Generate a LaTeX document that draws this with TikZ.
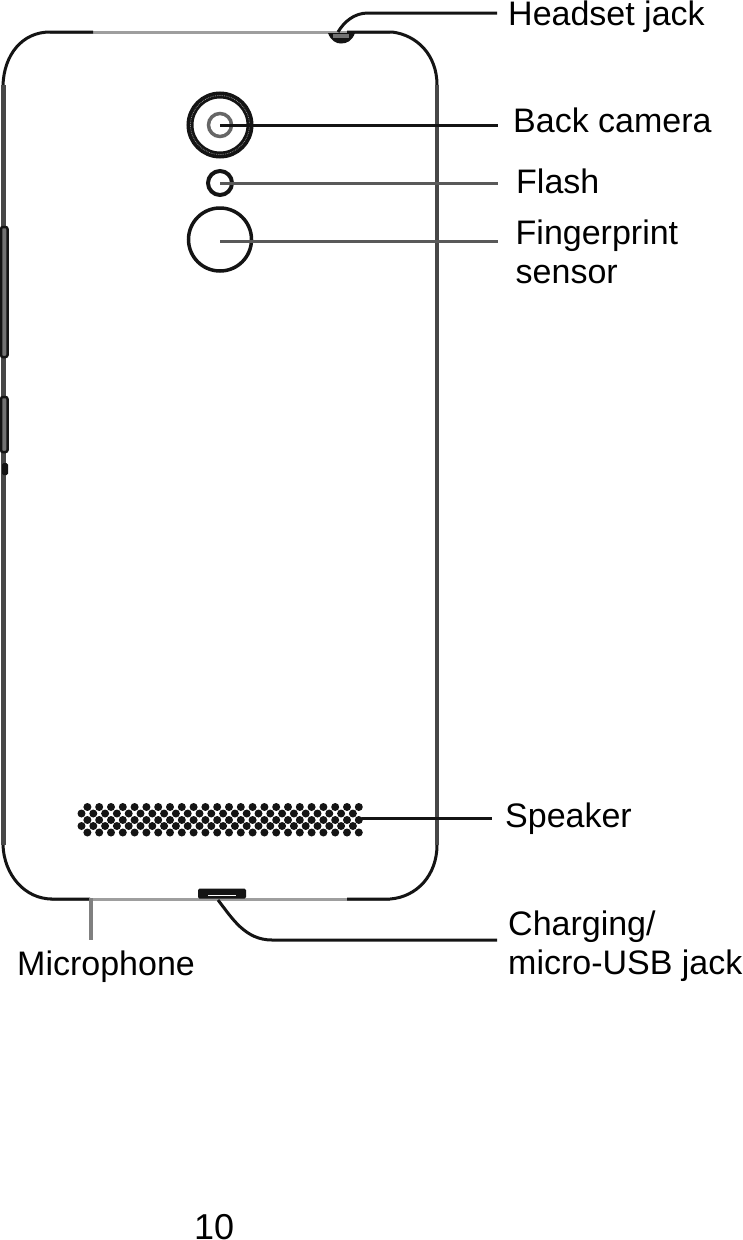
\documentclass[tikz,border=0pt]{standalone}
\usepackage{fontspec}
\setmainfont{Liberation Sans}
\usetikzlibrary{arrows.meta}
\definecolor{edgegrey}{gray}{0.62}
\definecolor{sidegrey}{gray}{0.28}
\definecolor{inkblack}{gray}{0.08}
\tikzset{
	callout/.style={anchor=base west, inner sep=0pt, font=\fontsize{34}{39}\selectfont, text=black, align=left},
	leader/.style={inkblack, line width=3pt},
	softleader/.style={black!65, line width=3pt},
	hole/.style={circle, draw=inkblack, inner sep=0pt, fill=white},
}
\begin{document}
\begin{tikzpicture}[x=1pt, y=-1pt]
	\useasboundingbox (0,0) rectangle (742,1240);
	\fill[white] (0,0) rectangle (742,1240);
	% outline of the back cover
	\draw[edgegrey, line width=3pt] (50,32) -- (390,32);
	\draw[edgegrey, line width=3pt] (50,899) -- (390,899);
	\draw[inkblack, line width=3pt] (93,32) -- (50,32) .. controls (22,32) and (4,55) .. (3,85);
	\draw[inkblack, line width=3pt] (347,32) -- (392,32) .. controls (417,35) and (437,55) .. (437,85);
	\draw[inkblack, line width=3pt] (3,845) .. controls (4,875) and (25,899) .. (52,899) -- (90,899);
	\draw[inkblack, line width=3pt] (347,899) -- (390,899) .. controls (417,897) and (437,875) .. (437,845);
	\draw[sidegrey, line width=5pt] (3,85) -- (3,845);
	\draw[sidegrey, line width=4pt] (437,85) -- (437,845);
	% side keys
	\draw[inkblack, line width=2.5pt, fill=black!55, rounded corners=2pt] (1,227) rectangle (7.5,357);
	\draw[inkblack, line width=2.5pt, fill=black!55, rounded corners=2pt] (1,397) rectangle (7.5,452);
	\fill[inkblack, rounded corners=1.5pt] (2,463) rectangle (8,475);
	% camera, flash and sensor
	\node[hole, line width=7pt, minimum size=60pt] (camera) at (220,125) {};
	\draw[black!45, line width=0.8pt, densely dotted] (220,125) circle (29.5pt);
	\node[hole, draw=black!60, line width=3.5pt, minimum size=23pt] (lens) at (220,125) {};
	\node[hole, line width=4pt, minimum size=24pt] (flash) at (220,183) {};
	\node[hole, line width=3.5pt, minimum size=63pt] (sensor) at (220,239.5) {};
	% speaker grille
	\foreach \ypos/\shift in {807/5.9,813.5/0,820/5.9,826/0,832.5/5.9} {
		\foreach \col in {0,...,23} {
			\fill[inkblack] ({81.5+11.8*\col+\shift},\ypos) circle (4pt);
		}
	}
	\coordinate (grille) at (362,818);
	% jacks
	\fill[inkblack] (328,33) .. controls (331,41) and (336,43.5) .. (341,43.5) .. controls (347,43.5) and (352,41) .. (355,33) -- cycle;
	\fill[black!55] (333,34) rectangle (349,38);
	\node[fill=inkblack, rounded corners=1.5pt, minimum width=48pt, minimum height=10pt, inner sep=0pt] (usb) at (222,893.5) {};
	\draw[white, line width=1.5pt] (208,895.5) -- (236,895.5);
	\coordinate (headset) at (338,32);
	\coordinate (mic) at (91,898);
	\coordinate (usbtail) at (218,900);
	% labels
	\node[callout] (headsetlbl) at (508,25) {Headset jack};
	\node[callout] (cameralbl) at (513,132) {Back camera};
	\node[callout] (flashlbl) at (516,193) {Flash};
	\node[callout, anchor=north west] (sensorlbl) at (515.5,220) {Fingerprint\\sensor};
	\node[callout] (speakerlbl) at (505,827) {Speaker};
	\node[callout, anchor=north west] (usblbl) at (508,911) {Charging/\\micro-USB jack};
	\node[callout] (miclbl) at (17,975) {Microphone};
	\node[callout, align=none, font=\fontsize{36}{39}\selectfont] (pagenum) at (194,1239) {10};
	\coordinate (headsetend) at (497,13);
	\coordinate (cameraend) at (498,125);
	\coordinate (flashend) at (498,183);
	\coordinate (sensorend) at (498,241);
	\coordinate (speakerend) at (492,818);
	\coordinate (usbend) at (497,940);
	\coordinate (micend) at (91,940);
	% leaders
	\draw[leader] (headset) .. controls (344,22) and (354,13) .. (368,13) -- (headsetend);
	\draw[leader] (camera.center) -- (cameraend);
	\draw[softleader] (flash.center) -- (flashend);
	\draw[softleader] ([yshift=-1.5pt]sensor.center) -- (sensorend);
	\draw[leader] (grille) -- (speakerend);
	\draw[leader] (usbtail) .. controls (232,918) and (245,940) .. (272,940) -- (usbend);
	\draw[black!50, line width=4pt] (mic) -- (micend);
\end{tikzpicture}
\end{document}
